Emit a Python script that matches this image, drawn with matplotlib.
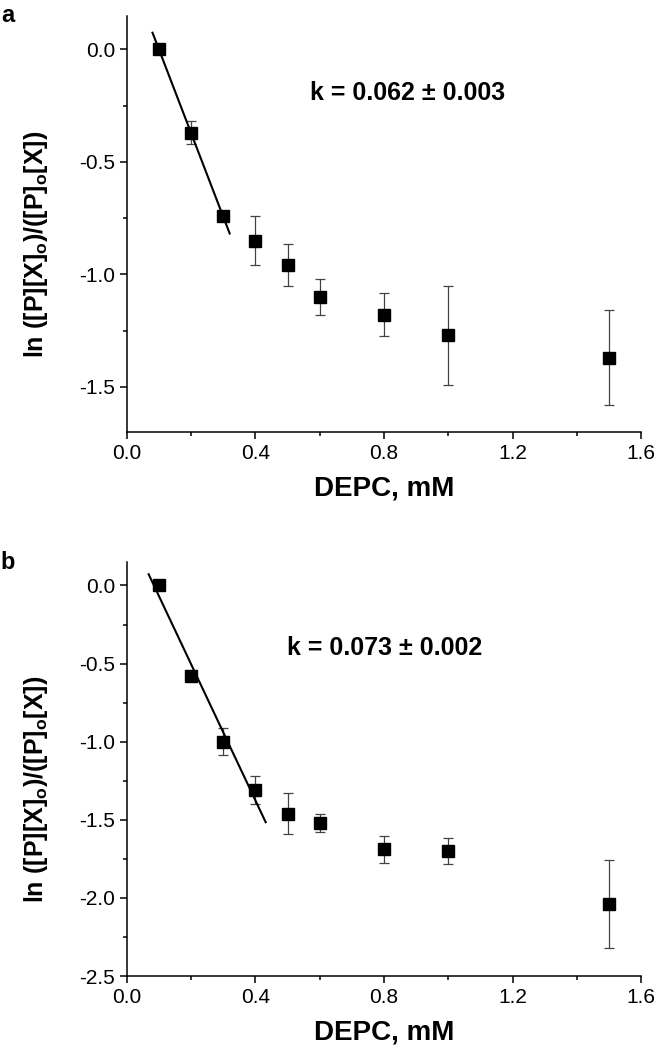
import numpy as np
import matplotlib.pyplot as plt
from matplotlib.ticker import MultipleLocator

plt.rcParams['font.family'] = ['Liberation Sans', 'DejaVu Sans']
plt.rcParams['mathtext.fontset'] = 'custom'
plt.rcParams['mathtext.rm'] = 'Liberation Sans:bold'
plt.rcParams['mathtext.bf'] = 'Liberation Sans:bold'
plt.rcParams['mathtext.it'] = 'Liberation Sans:bold'

# DEPC concentrations (mM)
depc = [0.1, 0.2, 0.3, 0.4, 0.5, 0.6, 0.8, 1.0, 1.5]

# panel a
ln_a = [0.0, -0.37, -0.74, -0.85, -0.96, -1.10, -1.18, -1.27, -1.37]
err_a = [0.0, 0.05, 0.02, 0.11, 0.093, 0.08, 0.095, 0.22, 0.21]
fit_a = (-3.72, 0.372)        # slope, intercept
fit_a_range = (0.08, 0.32)
k_a = 'k = 0.062 ± 0.003'

# panel b
ln_b = [0.0, -0.58, -1.00, -1.31, -1.46, -1.52, -1.69, -1.70, -2.04]
err_b = [0.0, 0.0, 0.087, 0.09, 0.13, 0.056, 0.084, 0.084, 0.28]
fit_b = (-4.36, 0.368)
fit_b_range = (0.068, 0.432)
k_b = 'k = 0.073 ± 0.002'

ylabel = r'$\mathbf{ln\ ([P][X]_o)/([P]_o[X])}$'


def panel(ax, y, e, fit, frange, ktxt, ylim, kpos, letter):
    ax.errorbar(depc, y, yerr=e, fmt='none', ecolor='#444444', elinewidth=0.9,
                capsize=3.5, capthick=0.9, zorder=2)
    ax.plot(depc, y, 's', color='black', markersize=8.5, zorder=3)
    xf = np.array(frange)
    ax.plot(xf, fit[0] * xf + fit[1], color='black', lw=1.5, zorder=2)

    ax.set_xlim(0, 1.6)
    ax.set_ylim(*ylim)
    ax.xaxis.set_major_locator(MultipleLocator(0.4))
    ax.xaxis.set_minor_locator(MultipleLocator(0.2))
    ax.yaxis.set_major_locator(MultipleLocator(0.5))
    ax.yaxis.set_minor_locator(MultipleLocator(0.25))
    ax.xaxis.set_major_formatter(lambda v, p: f'{v:.1f}')
    ax.yaxis.set_major_formatter(lambda v, p: f'{v:.1f}')
    ax.spines['top'].set_visible(False)
    ax.spines['right'].set_visible(False)
    for s in ('left', 'bottom'):
        ax.spines[s].set_linewidth(1.1)
    ax.tick_params(which='major', direction='out', length=5, width=1.1,
                   labelsize=15, pad=3.5)
    ax.tick_params(which='minor', direction='out', length=3, width=1.1)

    ax.set_xlabel('DEPC, mM', fontsize=20, fontweight='bold')
    ax.xaxis.set_label_coords(0.5, -0.105)
    ax.set_ylabel(ylabel, fontsize=18)
    ax.yaxis.set_label_coords(-0.15, 0.45)

    ax.text(kpos[0], kpos[1], ktxt, transform=ax.transAxes, fontsize=18,
            fontweight='bold', va='center', ha='left')
    ax.text(-0.245, 1.0, letter, transform=ax.transAxes, fontsize=17,
            fontweight='bold', va='center', ha='left')


fig = plt.figure(figsize=(6.57, 10.48), dpi=100)
ax1 = fig.add_axes([0.193, 0.588, 0.783, 0.397])
ax2 = fig.add_axes([0.193, 0.0687, 0.783, 0.395])

panel(ax1, ln_a, err_a, fit_a, fit_a_range, k_a, (-1.7, 0.15), (0.356, 0.815), 'a')
panel(ax2, ln_b, err_b, fit_b, fit_b_range, k_b, (-2.5, 0.15), (0.311, 0.792), 'b')

fig.savefig('out.png', dpi=100)
